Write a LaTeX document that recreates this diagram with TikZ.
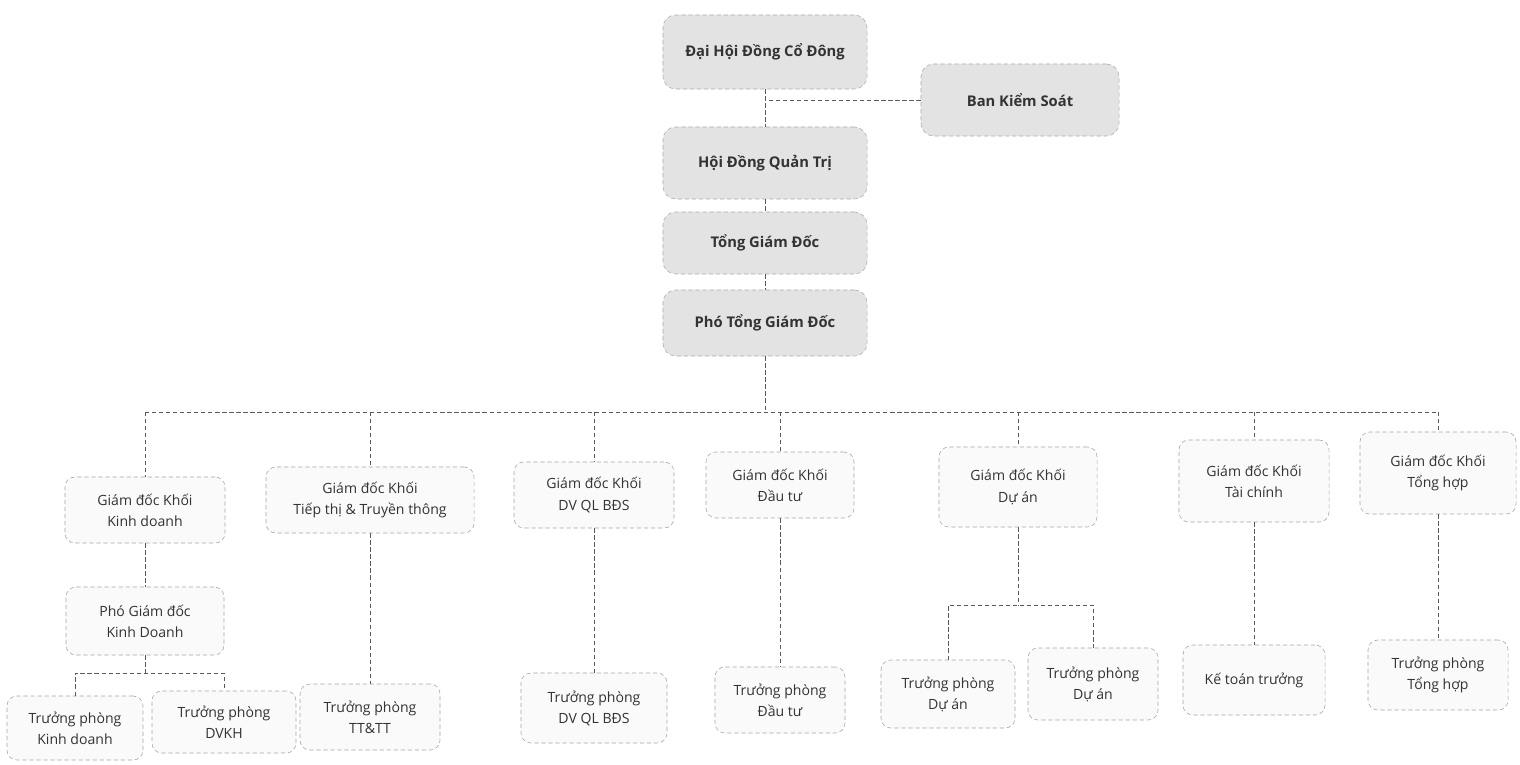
\documentclass[tikz,border=0pt]{standalone}
\usepackage{fontspec}
\setmainfont{Open Sans}
\begin{document}
\begin{tikzpicture}[x=0.025cm, y=-0.025cm,
		topbox/.style={draw=gray!65, densely dashed, fill=gray!22, rounded corners=9pt, text=black!80,
			minimum width=5.1cm, font=\bfseries\fontsize{10.5}{12}\selectfont},
		unit/.style={draw=gray!70, densely dashed, fill=gray!4, rounded corners=7pt, text=black!80,
			align=center, font=\fontsize{10}{15}\selectfont},
		link/.style={draw=black!65, densely dashed, thin}]
		\useasboundingbox (0,0) rectangle (1520,764);
		% Top column
		\node[topbox, minimum height=1.85cm] (dhdcd) at (765,52) {Đại Hội Đồng Cổ Đông};
		\node[topbox, minimum width=4.95cm, minimum height=1.8cm] (bks) at (1020,100) {Ban Kiểm Soát};
		\node[topbox, minimum height=1.8cm] (hdqt) at (765,163) {Hội Đồng Quản Trị};
		\node[topbox, minimum height=1.55cm] (tgd) at (765,243) {Tổng Giám Đốc};
		\node[topbox, minimum height=1.65cm] (ptgd) at (765,323) {Phó Tổng Giám Đốc};
		\coordinate (bus) at (765,412);
		
		\draw[link] (dhdcd.south) -- (hdqt.north);
		\draw[link] (bks.west) -- (bks.west -| dhdcd.south);
		\draw[link] (hdqt.south) -- (tgd.north);
		\draw[link] (tgd.south) -- (ptgd.north);
		\draw[link] (ptgd.south) -- (bus);
		
		% Khoi
		\node[unit, minimum width=4cm, minimum height=1.65cm] (kd) at (145,510) {Giám đốc Khối\\Kinh doanh};
		\node[unit, minimum width=5.2cm, minimum height=1.65cm] (tt) at (370,500) {Giám đốc Khối\\Tiếp thị \& Truyền thông};
		\node[unit, minimum width=4cm, minimum height=1.65cm] (dvql) at (594,495) {Giám đốc Khối\\DV QL BĐS};
		\node[unit, minimum width=3.7cm, minimum height=1.65cm] (dt) at (780,485) {Giám đốc Khối\\Đầu tư};
		\node[unit, minimum width=3.95cm, minimum height=2cm] (da) at (1018,487) {Giám đốc Khối\\Dự án};
		\node[unit, minimum width=3.75cm, minimum height=2.05cm] (tc) at (1254,481) {Giám đốc Khối\\Tài chính};
		\node[unit, minimum width=3.9cm, minimum height=2.05cm] (th) at (1438,473) {Giám đốc Khối\\Tổng hợp};
		
		\draw[link] (kd.north |- bus) -- (th.north |- bus);
		\foreach \k in {kd,tt,dvql,dt,da,tc,th}
			\draw[link] (\k.north |- bus) -- (\k.north);
		
		% Phong ban
		\node[unit, minimum width=3.95cm, minimum height=1.7cm] (pgd) at (145,621) {Phó Giám đốc\\Kinh Doanh};
		\node[unit, minimum width=3.4cm, minimum height=1.6cm] (tpkd) at (75,728) {Trưởng phòng\\Kinh doanh};
		\node[unit, minimum width=3.6cm, minimum height=1.55cm] (dvkh) at (224,722) {Trưởng phòng\\DVKH};
		\node[unit, minimum width=3.5cm, minimum height=1.65cm] (tptt) at (370,717) {Trưởng phòng\\TT\&TT};
		\node[unit, minimum width=3.65cm, minimum height=1.75cm] (tpdvql) at (594,708) {Trưởng phòng\\DV QL BĐS};
		\node[unit, minimum width=3.25cm, minimum height=1.65cm] (tpdt) at (780,700) {Trưởng phòng\\Đầu tư};
		\node[unit, minimum width=3.35cm, minimum height=1.7cm] (tpda1) at (948,694) {Trưởng phòng\\Dự án};
		\node[unit, minimum width=3.25cm, minimum height=1.8cm] (tpda2) at (1093,684) {Trưởng phòng\\Dự án};
		\node[unit, minimum width=3.55cm, minimum height=1.75cm] (ktt) at (1254,680) {Kế toán trưởng};
		\node[unit, minimum width=3.5cm, minimum height=1.75cm] (tpth) at (1438,675) {Trưởng phòng\\Tổng hợp};
		\coordinate (kdbus) at (145,673);
		\coordinate (dabus) at (1018,605);
		
		\draw[link] (kd.south) -- (pgd.north);
		\draw[link] (pgd.south) -- (kdbus);
		\draw[link] (tpkd.north) -- (tpkd.north |- kdbus) -- (dvkh.north |- kdbus) -- (dvkh.north);
		\draw[link] (tt.south) -- (tptt.north);
		\draw[link] (dvql.south) -- (tpdvql.north);
		\draw[link] (dt.south) -- (tpdt.north);
		\draw[link] (da.south) -- (dabus);
		\draw[link] (tpda1.north) -- (tpda1.north |- dabus) -- (tpda2.north |- dabus) -- (tpda2.north);
		\draw[link] (tc.south) -- (ktt.north);
		\draw[link] (th.south) -- (tpth.north);
	\end{tikzpicture}
\end{document}
